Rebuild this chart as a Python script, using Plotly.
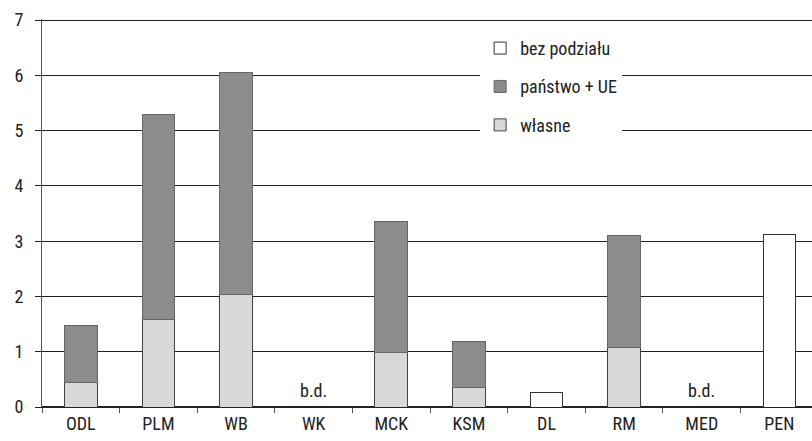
import plotly.graph_objects as go

categories = ["ODL", "PLM", "WB", "WK", "MCK", "KSM", "DL", "RM", "MED", "PEN"]
wlasne = [0.45, 1.58, 2.03, None, 0.98, 0.35, None, 1.07, None, None]
panstwo_ue = [1.03, 3.72, 4.02, None, 2.38, 0.83, None, 2.03, None, None]
bez_podzialu = [None, None, None, None, None, None, 0.26, None, None, 3.12]
no_data = ["WK", "MED"]
y_ticks = [0, 1, 2, 3, 4, 5, 6, 7]

FONT = "Liberation Sans Narrow, Roboto Condensed, Arial Narrow, Liberation Sans, sans-serif"
FS = 18

fig = go.Figure()
fig.add_trace(go.Bar(x=categories, y=wlasne, name="własne", legendrank=3, legendgroup="c",
                     marker=dict(color="#d8d8d8", line=dict(color="#444", width=1)), width=0.42))
fig.add_trace(go.Bar(x=categories, y=panstwo_ue, name="państwo + UE", legendrank=2, legendgroup="b",
                     marker=dict(color="#8c8c8c", line=dict(color="#666", width=1)), width=0.42))
fig.add_trace(go.Bar(x=categories, y=bez_podzialu, name="bez podziału", legendrank=1, legendgroup="a",
                     marker=dict(color="#ffffff", line=dict(color="#333", width=1)), width=0.42))

for c in no_data:
    fig.add_annotation(x=c, y=0.3, text="b.d.", showarrow=False,
                       font=dict(size=FS, color="#222", family=FONT))

fig.update_layout(
    barmode="stack",
    width=812, height=441,
    margin=dict(l=42, r=0, t=19, b=34),
    paper_bgcolor="white", plot_bgcolor="white",
    font=dict(family=FONT, size=FS, color="#222"),
    showlegend=True,
    legend=dict(x=0.569, y=0.972, xanchor="left", yanchor="top",
                bgcolor="white", traceorder="grouped", tracegroupgap=12,
                font=dict(size=FS, family=FONT), itemwidth=30),
    xaxis=dict(range=[-0.5, 9.42], showgrid=False, ticks="outside", tickson="boundaries",
               ticklen=5, tickcolor="#555", showline=True, linecolor="#222", linewidth=1,
               automargin=False, tickfont=dict(size=FS, family=FONT)),
    yaxis=dict(range=[0, 7.02], tickvals=y_ticks, showgrid=True, gridcolor="#222", gridwidth=1,
               ticks="outside", ticklen=6, tickcolor="#222", showline=True, linecolor="#555",
               automargin=False, ticklabelstandoff=8,
               zeroline=True, zerolinecolor="#222", tickfont=dict(size=FS, family=FONT)),
)

fig.write_html("out.html", config={"displayModeBar": False},
               post_script="document.body.style.margin='0';")
